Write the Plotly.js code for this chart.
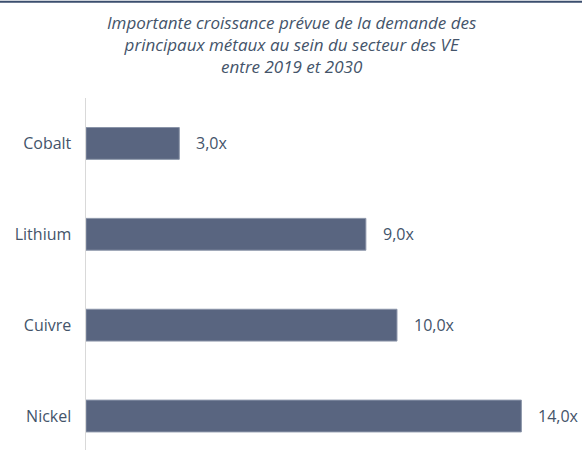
<!DOCTYPE html>
<html><head><meta charset="utf-8">
<script src="https://cdn.plot.ly/plotly-3.0.1.min.js"></script>
<style>html,body{margin:0;padding:0;background:#fff;}#chart{width:582px;height:454px;}</style>
</head><body><div id="chart"></div>
<script>
const categories = ["Cobalt", "Lithium", "Cuivre", "Nickel"];
const growth = [3.0, 9.0, 10.0, 14.0];
const valueLabels = ["3,0x", "9,0x", "10,0x", "14,0x"];
const titleLines = [
  "Importante croissance prévue de la demande des",
  "principaux métaux au sein du secteur des VE",
  "entre 2019 et 2030"
];

const textColor = "#44546a";
const fontFam = "'Open Sans', Lato, sans-serif";
const W = 582, H = 454, L = 86, R = 14, T = 97.5, B = 4;
const plotW = W - L - R, plotH = H - T - B;

const trace = {
  type: "bar", orientation: "h",
  x: growth, y: categories,
  marker: {color: "#596580", line: {color: "#8a94a8", width: 1}},
  width: 0.35, hoverinfo: "none"
};

const annotations = growth.map((v, i) => ({
  x: v, y: categories[i], xref: "x", yref: "y",
  text: valueLabels[i], showarrow: false, xanchor: "left", xshift: 15,
  font: {family: fontFam, size: 16, color: textColor}
}));

annotations.push({
  text: titleLines.join("<br>"), showarrow: false,
  xref: "paper", yref: "paper",
  x: (W / 2 - L) / plotW, xanchor: "center",
  y: (H - B - 44) / plotH, yanchor: "middle",
  align: "center",
  font: {family: fontFam, size: 17, color: textColor, style: "italic"}
});

const layout = {
  width: W, height: H,
  margin: {l: L, r: R, t: T, b: B, pad: 0},
  paper_bgcolor: "#fff", plot_bgcolor: "#fff",
  showlegend: false,
  xaxis: {range: [0, 15.5], visible: false, fixedrange: true},
  yaxis: {
    type: "category", range: [3.374, -0.5],
    showgrid: false, zeroline: false,
    showline: true, linecolor: "#d9d9d9", linewidth: 1.5,
    ticks: "", ticklabelstandoff: 10,
    tickfont: {family: fontFam, size: 16, color: textColor}
  },
  annotations: annotations,
  shapes: [{
    type: "line", xref: "paper", yref: "paper",
    x0: -L / plotW, x1: (W - L) / plotW,
    y0: (H - B - 1) / plotH, y1: (H - B - 1) / plotH,
    line: {color: "#3b4e6e", width: 2}
  }]
};

Plotly.newPlot("chart", [trace], layout, {displayModeBar: false, staticPlot: true});
</script></body></html>
